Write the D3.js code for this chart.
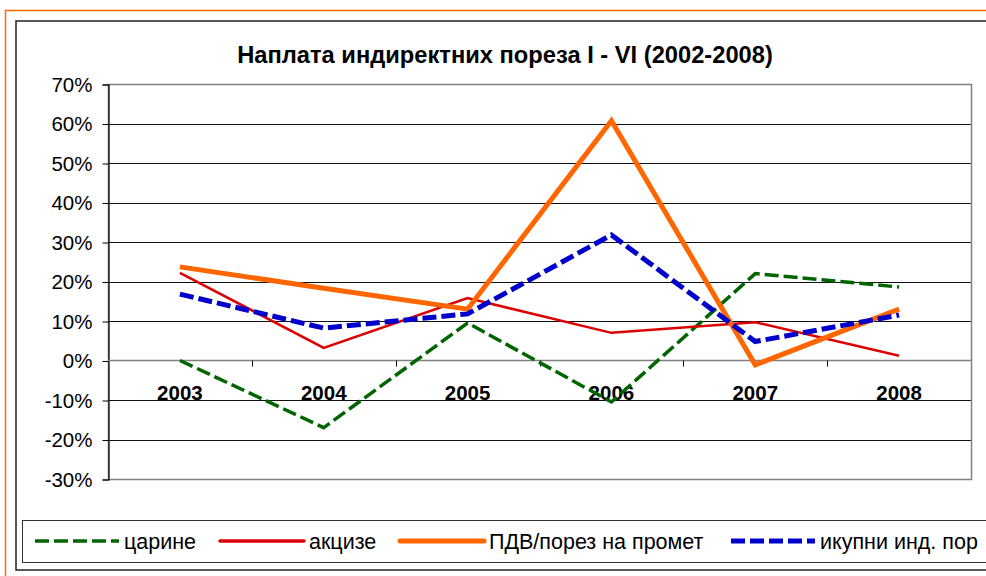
<!DOCTYPE html>
<html><head><meta charset="utf-8">
<script src="https://cdn.jsdelivr.net/npm/d3@7"></script>
<style>body{margin:0;background:#fff;} svg{display:block;font-family:Arial,"Liberation Sans",sans-serif;}</style>
</head><body>
<svg id="c" width="986" height="576"></svg>
<script>
const years = ["2003","2004","2005","2006","2007","2008"];
const carine = [0, -17, 9.5, -10.5, 22, 18.6];
const akcize = [22.2, 3.2, 15.8, 7, 9.7, 1.2];
const pdv = [23.7, 18.3, 13, 60.7, -1.1, 13];
const ukupni = [16.8, 8.2, 11.8, 31.8, 4.8, 11.5];
const yTicks = [-30,-20,-10,0,10,20,30,40,50,60,70];
const title = "Наплата индиректних пореза I - VI (2002-2008)";
const seriesNames = ["царине","акцизе","ПДВ/порез на промет","икупни инд. пор"];

const series = [
  {name: seriesNames[0], values: carine, color:"#006400", width:3.5, dash:"14,5"},
  {name: seriesNames[1], values: akcize, color:"#dd0000", width:2.5, dash:null},
  {name: seriesNames[2], values: pdv, color:"#ff6600", width:5, dash:null},
  {name: seriesNames[3], values: ukupni, color:"#0000cc", width:5, dash:"14,5"}
];

const svg = d3.select("#c");
// outer borders
svg.append("rect").attr("x",5.5).attr("y",10.5).attr("width",1000).attr("height",600)
  .attr("fill","none").attr("stroke","#ff6600").attr("stroke-width",1.5);
svg.append("rect").attr("x",16).attr("y",21).attr("width",1000).attr("height",549)
  .attr("fill","none").attr("stroke","#222").attr("stroke-width",1.5);

const L=108, R=971, T=84, B=479;
const x = d3.scaleBand().domain(years).range([L,R]);
const y = d3.scaleLinear().domain([-30,70]).range([B,T]);

svg.append("text").attr("x",505).attr("y",63).attr("text-anchor","middle")
  .attr("font-weight","bold").attr("font-size",23.7).text(title);

// gridlines
svg.append("g").selectAll("line").data(yTicks.filter(d=>d!==0 && d!==70 && d!==-30)).join("line")
  .attr("x1",L).attr("x2",R).attr("y1",d=>Math.round(y(d))+0.5).attr("y2",d=>Math.round(y(d))+0.5)
  .attr("stroke","#111").attr("stroke-width",1);
// plot border
svg.append("rect").attr("x",L+0.5).attr("y",T+0.5).attr("width",R-L).attr("height",B-T)
  .attr("fill","none").attr("stroke","#808080").attr("stroke-width",1.5);

// y axis
const yAxis = d3.axisLeft(y).tickValues(yTicks).tickFormat(d=>d+"%").tickSize(6).tickPadding(10);
const gy = svg.append("g").attr("transform",`translate(${L+0.5},0.5)`).call(yAxis);
gy.select(".domain").attr("stroke","#000").attr("stroke-width",1.2);
gy.selectAll(".tick line").attr("stroke","#000");
gy.selectAll("text").attr("font-size",20.5).attr("fill","#000").attr("font-family","Arial,'Liberation Sans',sans-serif");

// x axis at 0
const y0 = Math.round(y(0))+0.5;
svg.append("line").attr("x1",L).attr("x2",R).attr("y1",y0).attr("y2",y0).attr("stroke","#808080").attr("stroke-width",1.5);
svg.append("g").selectAll("line").data(years.slice(1)).join("line")
  .attr("x1",d=>Math.round(x(d))+0.5).attr("x2",d=>Math.round(x(d))+0.5)
  .attr("y1",y0).attr("y2",y0+6).attr("stroke","#000");
svg.append("g").selectAll("text").data(years).join("text")
  .attr("x",d=>x(d)+x.bandwidth()/2).attr("y",y0+39).attr("text-anchor","middle")
  .attr("font-weight","bold").attr("font-size",20.5).text(d=>d);

// lines
const line = d3.line().x((d,i)=>x(years[i])+x.bandwidth()/2).y(d=>y(d));
series.forEach(s=>{
  svg.append("path").datum(s.values).attr("d",line).attr("fill","none")
    .attr("stroke",s.color).attr("stroke-width",s.width)
    .attr("stroke-dasharray",s.dash).attr("stroke-linejoin","miter");
});

// legend
svg.append("rect").attr("x",22.5).attr("y",520.5).attr("width",1000).attr("height",42)
  .attr("fill","#fff").attr("stroke","#333").attr("stroke-width",1);
const legX = [35, 220, 400, 731];
series.forEach((s,i)=>{
  const ly = 541;
  svg.append("line").attr("x1",legX[i]).attr("x2",legX[i]+84).attr("y1",ly).attr("y2",ly)
    .attr("stroke",s.color).attr("stroke-width",s.width+ (i===1?1:0)).attr("stroke-dasharray",s.dash)
    .attr("stroke-linecap", s.dash? "butt":"round");
  svg.append("text").attr("x",legX[i]+89).attr("y",ly+8).attr("font-size",21.5).text(s.name);
});
</script>
</body></html>
